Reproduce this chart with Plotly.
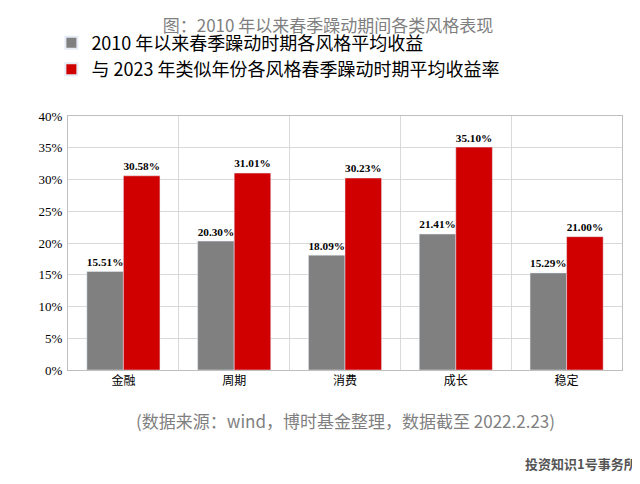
import plotly.graph_objects as go

categories = ["金融", "周期", "消费", "成长", "稳定"]
avg_2010 = [0.1551, 0.2030, 0.1809, 0.2141, 0.1529]
similar_2023 = [0.3058, 0.3101, 0.3023, 0.3510, 0.2100]
series_names = ["2010 年以来春季躁动时期各风格平均收益", "与 2023 年类似年份各风格春季躁动时期平均收益率"]

cjk = "Noto Sans CJK SC"
serif = "Liberation Serif"

fig = go.Figure()
fig.add_trace(go.Bar(x=categories, y=avg_2010, name=series_names[0], marker_color="#808080",
                     text=[f"<b>{v:.2%}</b>" for v in avg_2010], textposition="outside",
                     textfont=dict(family=serif, size=13, color="black"), cliponaxis=False))
fig.add_trace(go.Bar(x=categories, y=similar_2023, name=series_names[1], marker_color="#D00000",
                     text=[f"<b>{v:.2%}</b>" for v in similar_2023], textposition="outside",
                     textfont=dict(family=serif, size=13, color="black"), cliponaxis=False))

fig.update_layout(
    width=640, height=484, barmode="group", bargap=0.34, bargroupgap=0,
    plot_bgcolor="white", paper_bgcolor="white",
    margin=dict(l=60, r=26, t=108, b=122),
    title=dict(text="图：2010 年以来春季躁动期间各类风格表现", x=0.5, y=0.975, xanchor="center",
               font=dict(family=cjk, size=17, color="#7f7f7f")),
    legend=dict(x=-0.03, y=1.36, xanchor="left", yanchor="top", orientation="v",
                font=dict(family=cjk, size=18, color="black"), itemsizing="constant"),
    showlegend=True,
)
fig.update_xaxes(showline=True, linecolor="#bfbfbf", mirror=True, tickson="boundaries",
                 showgrid=True, gridcolor="#d9d9d9", ticks="",
                 tickfont=dict(family=cjk, size=12, color="black"))
fig.update_yaxes(range=[0, 0.4], dtick=0.05, tickformat=".0%", showline=True, linecolor="#bfbfbf",
                 mirror=True, gridcolor="#d9d9d9", zeroline=False,
                 tickfont=dict(family=serif + " Bold, " + serif, size=13, color="black"),
                 ticklabelstandoff=2)
fig.add_annotation(text="(数据来源：wind，博时基金整理，数据截至 2022.2.23)", xref="paper", yref="paper",
                   x=0.5, y=-0.2, xanchor="center", yanchor="middle", showarrow=False,
                   font=dict(family=cjk, size=17, color="#7f7f7f"))
fig.add_annotation(text="<b>投资知识1号事务所</b>", xref="paper", yref="paper", x=1.03, y=-0.37,
                   xanchor="right", yanchor="middle", showarrow=False,
                   font=dict(family=cjk, size=13, color="#555555"))
fig.write_html("out.html")
